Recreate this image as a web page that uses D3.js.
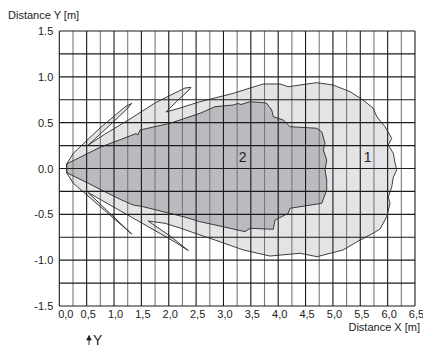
<!DOCTYPE html>
<html>
<head>
<meta charset="utf-8">
<script src="https://cdn.jsdelivr.net/npm/d3@7/dist/d3.min.js"></script>
<style>
  body { margin: 0; background: #fff; }
  svg text { font-family: "Liberation Sans", Arial, sans-serif; fill: #222; }
</style>
</head>
<body>
<svg id="vis"></svg>
<script>
const WIDTH = 423;
const HEIGHT = 347;

// axis ticks
const xTickValues = [0, 0.5, 1, 1.5, 2, 2.5, 3, 3.5, 4, 4.5, 5, 5.5, 6, 6.5];
const xTickLabels = ["0,0", "0,5", "1,0", "1,5", "2,0", "2,5", "3,0", "3,5", "4,0", "4,5", "5,0", "5,5", "6,0", "6,5"];
const yTickValues = [-1.5, -1, -0.5, 0, 0.5, 1, 1.5];
const yTickLabels = ["-1.5", "-1.0", "-0.5", "0.0", "0.5", "1.0", "1.5"];

// detection zone 1 (outer, light) - [x m, y m]
const zone1 = [
  [0.135, 0.049], [0.256, 0.166], [0.744, 0.442], [1.201, 0.671], [1.323, 0.711],
  [1.255, 0.660], [0.927, 0.475], [0.530, 0.256],
  [0.835, 0.376], [1.292, 0.540], [1.749, 0.715], [2.114, 0.824], [2.297, 0.878],
  [2.407, 0.886], [2.352, 0.845], [2.169, 0.747], [1.950, 0.616],
  [2.206, 0.660], [2.571, 0.729], [3.180, 0.820], [3.485, 0.878], [3.728, 0.922],
  [4.033, 0.922], [4.185, 0.892], [4.399, 0.911], [4.704, 0.936], [5.002, 0.911],
  [5.313, 0.838], [5.550, 0.747], [5.733, 0.660], [5.806, 0.562], [5.952, 0.456],
  [6.075, 0.329], [6.012, 0.256], [6.104, 0.166], [6.135, 0.060], [6.166, -0.016],
  [6.104, -0.093], [6.075, -0.202], [6.012, -0.311], [6.043, -0.380], [5.983, -0.526],
  [5.861, -0.660], [5.733, -0.707], [5.440, -0.799], [5.185, -0.889], [4.710, -0.962],
  [4.399, -0.925], [3.851, -0.955], [3.363, -0.889], [2.845, -0.780], [2.571, -0.725],
  [2.206, -0.649], [1.932, -0.598], [1.626, -0.573],
  [2.023, -0.736], [2.357, -0.895], [2.114, -0.802], [1.475, -0.584], [0.927, -0.398],
  [0.530, -0.264],
  [1.323, -0.715], [0.744, -0.413], [0.256, -0.161], [0.135, -0.049]
];

// detection zone 2 (inner, dark)
const zone2 = [
  [0.135, 0.049], [0.744, 0.231], [1.383, 0.376], [1.402, 0.382], [1.438, 0.365],
  [1.475, 0.420], [2.023, 0.493], [2.571, 0.602], [2.845, 0.674], [3.180, 0.693],
  [3.266, 0.709], [3.321, 0.698], [3.485, 0.729], [3.728, 0.718], [3.790, 0.711],
  [3.882, 0.638], [3.911, 0.565], [4.094, 0.529], [4.216, 0.456], [4.704, 0.439],
  [4.795, 0.401], [4.856, 0.275], [4.825, 0.202], [4.887, 0.093], [4.856, -0.016],
  [4.887, -0.125], [4.887, -0.235], [4.795, -0.380], [4.216, -0.434], [4.185, -0.489],
  [3.942, -0.562], [3.911, -0.663], [3.485, -0.652], [3.394, -0.689], [2.845, -0.616],
  [2.571, -0.580], [2.266, -0.526], [1.535, -0.417], [1.352, -0.398], [1.140, -0.344],
  [0.744, -0.227], [0.530, -0.161], [0.135, -0.046]
];

const zoneNames = ["2", "1"];
const zoneNameX = [3.352, 5.636];
const zoneNameY = [0.129, 0.129];

const svg = d3.select("#vis")
  .attr("width", WIDTH)
  .attr("height", HEIGHT);

const x = d3.scaleLinear().domain([0, 6.5]).range([59.3, 415]);
const y = d3.scaleLinear().domain([-1.5, 1.5]).range([306, 31]);

const line = d3.line().x(d => x(d[0])).y(d => y(d[1])).curve(d3.curveLinearClosed);

// fills
svg.append("path").datum(zone1).attr("d", line).attr("fill", "#e4e4e6");
svg.append("path").datum(zone2).attr("d", line).attr("fill", "#bbbbbf");

// grid, every 0.25 m
const gx = d3.range(0, 6.5001, 0.25);
const gy = d3.range(-1.5, 1.5001, 0.25);
svg.append("g").selectAll("line").data(gx).enter().append("line")
  .attr("x1", d => x(d)).attr("x2", d => x(d))
  .attr("y1", y(-1.5)).attr("y2", y(1.5))
  .attr("stroke", (d, i) => i % 2 === 0 ? "#1a1a1a" : "#7a7a7a")
  .attr("stroke-width", 1.1);
svg.append("g").selectAll("line").data(gy).enter().append("line")
  .attr("x1", x(0)).attr("x2", x(6.5))
  .attr("y1", d => y(d)).attr("y2", d => y(d))
  .attr("stroke", "#1a1a1a")
  .attr("stroke-width", 1.1);

// outlines
svg.append("path").datum(zone1).attr("d", line)
  .attr("fill", "none").attr("stroke", "#2a2a2a").attr("stroke-width", 0.9);
svg.append("path").datum(zone2).attr("d", line)
  .attr("fill", "none").attr("stroke", "#2a2a2a").attr("stroke-width", 0.9);

// axes
const xAxis = svg.append("g")
  .attr("transform", `translate(0,${y(-1.5)})`)
  .call(d3.axisBottom(x).tickValues(xTickValues)
    .tickFormat((d, i) => xTickLabels[i]).tickSize(0).tickPadding(4));
xAxis.select(".domain").remove();
xAxis.selectAll("text")
  .attr("font-size", 11)
  .attr("font-family", null)
  .attr("dx", (d, i) => i === 0 ? 6 : 1);

const yAxis = svg.append("g")
  .attr("transform", `translate(${x(0)},0)`)
  .call(d3.axisLeft(y).tickValues(yTickValues)
    .tickFormat((d, i) => yTickLabels[i]).tickSize(0).tickPadding(6));
yAxis.select(".domain").remove();
yAxis.selectAll("text").attr("font-size", 11).attr("font-family", null);

// axis titles
svg.append("text").attr("x", 8).attr("y", 19)
  .attr("font-size", 11).text("Distance Y [m]");
svg.append("text").attr("x", 420).attr("y", 331)
  .attr("text-anchor", "end").attr("font-size", 11).text("Distance X [m]");

// arrow + Y
svg.append("path")
  .attr("d", "M89,345 L89,339 M86.8,340 L89,335.5 L91.2,340 Z")
  .attr("stroke", "#222").attr("stroke-width", 0.9).attr("fill", "#222");
svg.append("text").attr("x", 93).attr("y", 345)
  .attr("font-size", 14).text("Y");

// zone labels
svg.append("g").selectAll("text").data(zoneNames).enter().append("text")
  .attr("x", (d, i) => x(zoneNameX[i]))
  .attr("y", (d, i) => y(zoneNameY[i]))
  .attr("dy", "0.36em")
  .attr("text-anchor", "middle")
  .attr("font-size", 14)
  .text(d => d);
</script>
</body>
</html>
